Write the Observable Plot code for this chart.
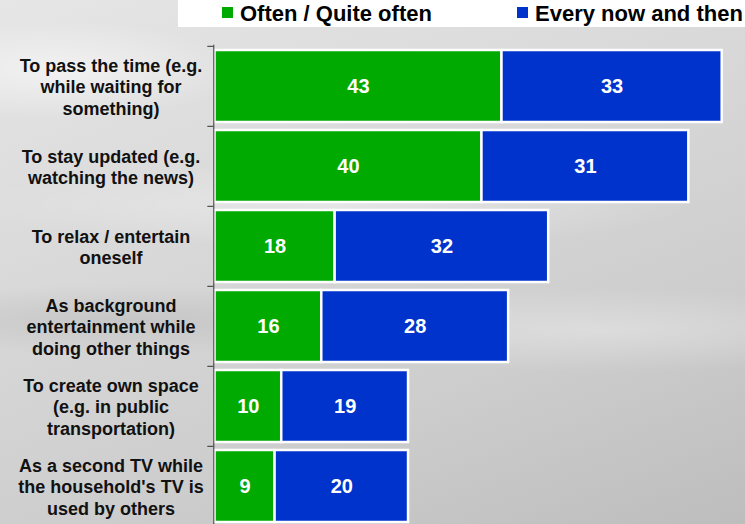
<!DOCTYPE html>
<html>
<head>
<meta charset="utf-8">
<script src="https://cdn.jsdelivr.net/npm/d3@7"></script>
<script src="https://cdn.jsdelivr.net/npm/@observablehq/plot@0.6"></script>
<style>
  body { margin: 0; }
  #wrap {
    position: relative; width: 745px; height: 524px; overflow: hidden;
    font-family: "Liberation Sans", Arial, sans-serif;
    background:
      radial-gradient(ellipse 260px 70px at 60px 70px, rgba(255,255,255,0.55), rgba(255,255,255,0) 70%),
      radial-gradient(ellipse 520px 60px at 330px 205px, rgba(255,255,255,0.35), rgba(255,255,255,0) 70%),
      radial-gradient(ellipse 420px 50px at 120px 320px, rgba(170,170,170,0.35), rgba(170,170,170,0) 70%),
      radial-gradient(ellipse 500px 60px at 600px 330px, rgba(255,255,255,0.3), rgba(255,255,255,0) 70%),
      linear-gradient(160deg, #e6e6e6 0%, #d8d8d8 40%, #cdcdcd 70%, #bdbdbd 100%);
  }
  #chart { position: absolute; left: 0; top: 0; }
  #legend {
    position: absolute; left: 178px; top: 0; width: 567px; height: 27px; background: #ffffff;
  }
  .item { position: absolute; top: 2px; font-size: 22px; font-weight: bold; color: #000; line-height: 24px; white-space: nowrap; }
  .sw { display: inline-block; width: 11px; height: 11px; margin-right: 7px; vertical-align: 3px; }
</style>
</head>
<body>
<div id="wrap">
  <div id="chart"></div>
  <div id="legend"></div>
</div>
<script>
const categories = [
  "To pass the time (e.g.\nwhile waiting for\nsomething)",
  "To stay updated (e.g.\nwatching the news)",
  "To relax / entertain\noneself",
  "As background\nentertainment while\ndoing other things",
  "To create own space\n(e.g. in public\ntransportation)",
  "As a second TV while\nthe household's TV is\nused by others"
];
const often = [43, 40, 18, 16, 10, 9];
const everyNow = [33, 31, 32, 28, 19, 20];
const seriesNames = ["Often / Quite often", "Every now and then"];
const seriesColors = ["#00aa00", "#0033cc"];

const rows = categories.flatMap((c, i) => [
  {category: c, series: seriesNames[0], value: often[i]},
  {category: c, series: seriesNames[1], value: everyNow[i]}
]);

const step = 80.4;
const top0 = 44.7;

const chart = Plot.plot({
  width: 745,
  height: 524,
  marginTop: top0,
  marginBottom: 0,
  marginLeft: 214.5,
  marginRight: 23,
  style: {background: "transparent", fontFamily: "'Liberation Sans', Arial, sans-serif"},
  x: {domain: [0, 76], range: [214.5, 721.7], axis: null},
  y: {domain: categories, range: [top0, top0 + categories.length * step], paddingInner: 0.105, paddingOuter: 0.0525, axis: null},
  color: {domain: seriesNames, range: seriesColors},
  marks: [
    Plot.barX(rows, Plot.stackX({x: "value", y: "category", fill: "series", stroke: "white", strokeWidth: 2.5, order: null})),
    Plot.text(rows, Plot.stackX({x: "value", y: "category", text: d => String(d.value), fill: "white", fontSize: 20, fontWeight: "bold", order: null})),
    Plot.text(categories, {y: d => d, text: d => d, frameAnchor: "left", dx: -104, textAnchor: "middle", fontSize: 18, fontWeight: "bold", lineHeight: 1.2, fill: "#111"}),
    Plot.ruleX([0], {stroke: "#333", strokeWidth: 1, dx: -1.2}),
    Plot.axisY({anchor: "left", tickSize: 6, text: null, label: null, dy: -step / 2, dx: -1.2, stroke: "#333"})
  ]
});
document.getElementById("chart").appendChild(chart);

const legend = document.getElementById("legend");
const legendLeft = [44, 339];
seriesNames.forEach((name, i) => {
  const el = document.createElement("div");
  el.className = "item";
  el.style.left = legendLeft[i] + "px";
  const sw = document.createElement("span");
  sw.className = "sw";
  sw.style.background = seriesColors[i];
  el.appendChild(sw);
  el.appendChild(document.createTextNode(name));
  legend.appendChild(el);
});
</script>
</body>
</html>
